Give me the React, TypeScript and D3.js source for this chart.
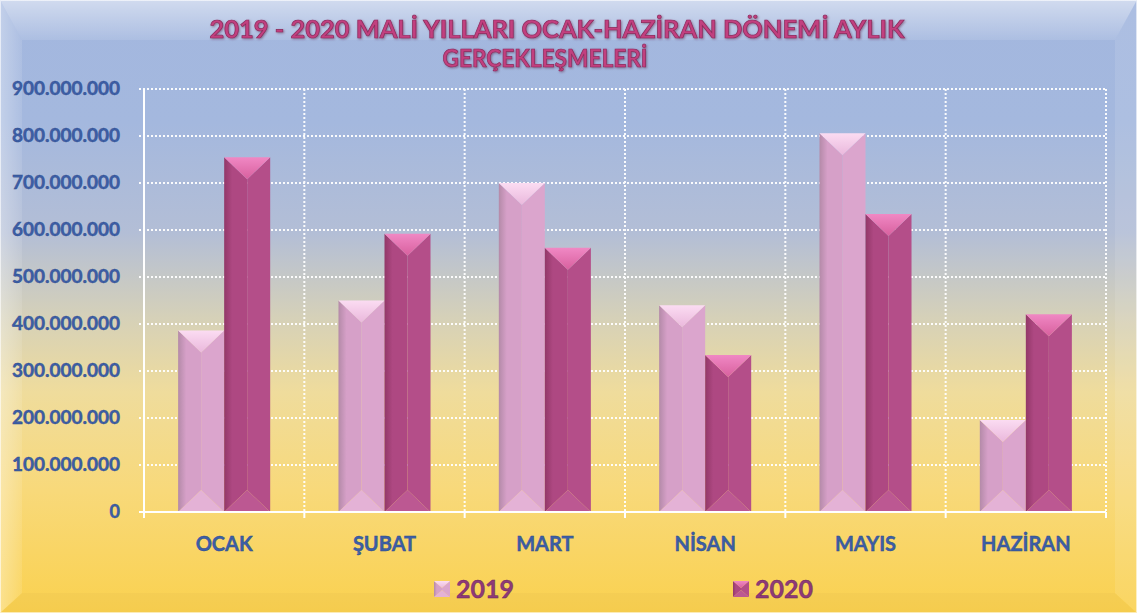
import React from "react";
import * as d3 from "d3";

const categories = ["OCAK", "ŞUBAT", "MART", "NİSAN", "MAYIS", "HAZİRAN"];
const seriesNames = ["2019", "2020"];
const values2019 = [386000000, 450000000, 700000000, 440000000, 806000000, 196000000];
const values2020 = [755000000, 592000000, 562000000, 334000000, 634000000, 421000000];
const yTicks = [0, 100000000, 200000000, 300000000, 400000000, 500000000, 600000000, 700000000, 800000000, 900000000];
const titleLines = ["2019 - 2020  MALİ YILLARI OCAK-HAZİRAN DÖNEMİ AYLIK", "GERÇEKLEŞMELERİ"];

const W = 1137;
const H = 613;
const M = { left: 144, right: 1106, top: 89, bottom: 512 };

const palettes = [
  { top: "#fbdcf2", topB: "#eab8dc", leftA: "#b48aa8", leftB: "#d6a0c8", right: "#dba5cd", bottom: "#e4b2d6", legend: "#d9a3cc" },
  { top: "#f088c4", topB: "#d8609e", leftA: "#923868", leftB: "#ae4882", right: "#b44e89", bottom: "#bc5892", legend: "#a8408a" },
];

const fmt = (v: number) => (v === 0 ? "0" : d3.format(",")(v).replace(/,/g, "."));

function Bar({ x, y, w, h, p, id }: { x: number; y: number; w: number; h: number; p: any; id: string }) {
  const d = Math.min(w / 2 - 1, h / 2);
  const cx = x + w / 2;
  const r = x + w;
  const b = y + h;
  return (
    <g>
      <defs>
        <linearGradient id={id + "l"} x1="0" x2="1" y1="0" y2="0">
          <stop offset="0" stopColor={p.leftA} />
          <stop offset="0.35" stopColor={p.leftB} />
          <stop offset="1" stopColor={p.leftB} />
        </linearGradient>
        <linearGradient id={id + "t"} x1="0" x2="0" y1="0" y2="1">
          <stop offset="0" stopColor={p.top} />
          <stop offset="1" stopColor={p.topB} />
        </linearGradient>
      </defs>
      <polygon points={`${x},${y} ${cx},${y + d} ${cx},${b - d} ${x},${b}`} fill={`url(#${id}l)`} />
      <polygon points={`${r},${y} ${cx},${y + d} ${cx},${b - d} ${r},${b}`} fill={p.right} />
      <polygon points={`${x},${y} ${r},${y} ${cx},${y + d}`} fill={`url(#${id}t)`} />
      <polygon points={`${x},${b} ${r},${b} ${cx},${b - d}`} fill={p.bottom} />
    </g>
  );
}

export default function App() {
  const y = d3.scaleLinear().domain([0, 900000000]).range([M.bottom, M.top]);
  const x0 = d3.scaleBand<string>().domain(categories).range([M.left, M.right]).paddingInner(0).paddingOuter(0);
  const x1 = d3.scaleBand<string>().domain(seriesNames).range([0, x0.bandwidth()]).paddingInner(0).paddingOuter(0.742);
  const series = [values2019, values2020];
  const boundaries = categories.map((c) => (x0(c) as number) + x0.bandwidth());

  return (
    <svg width={W} height={H} style={{ position: "absolute", left: 0, top: 0 }} fontFamily="Lato, 'Open Sans', sans-serif">
      <defs>
        <linearGradient id="bg" x1="0" x2="0" y1="0" y2="1">
          <stop offset="0" stopColor="#a3b7df" />
          <stop offset="0.2" stopColor="#a4b8de" />
          <stop offset="0.38" stopColor="#b3bed6" />
          <stop offset="0.52" stopColor="#d6d1b8" />
          <stop offset="0.64" stopColor="#efdc9c" />
          <stop offset="0.8" stopColor="#f8d97a" />
          <stop offset="1" stopColor="#fad14f" />
        </linearGradient>
        <linearGradient id="topBevel" x1="0" x2="0" y1="0" y2="1">
          <stop offset="0" stopColor="#ffffff" stopOpacity="0.5" />
          <stop offset="1" stopColor="#ffffff" stopOpacity="0.1" />
        </linearGradient>
        <linearGradient id="leftBevel" x1="0" x2="1" y1="0" y2="0">
          <stop offset="0" stopColor="#ffffff" stopOpacity="0.35" />
          <stop offset="1" stopColor="#ffffff" stopOpacity="0.1" />
        </linearGradient>
        <filter id="ts" x="-5%" y="-20%" width="110%" height="140%">
          <feDropShadow dx="1" dy="1" stdDeviation="0.8" floodColor="#5a2040" floodOpacity="0.5" />
        </filter>
      </defs>
      <rect x={0} y={0} width={W} height={H} fill="url(#bg)" />
      <polygon points={`0,0 ${W},0 ${W - 22},40 22,40`} fill="url(#topBevel)" />
      <polygon points={`0,0 22,40 22,${H - 20} 0,${H}`} fill="url(#leftBevel)" />
      <polygon points={`${W},0 ${W - 22},40 ${W - 22},${H - 20} ${W},${H}`} fill="#ffffff" fillOpacity="0.1" />
      <polygon points={`0,${H} 22,${H - 20} ${W - 22},${H - 20} ${W},${H}`} fill="#000000" fillOpacity="0.02" />
      <rect x={0.5} y={0.5} width={W - 1} height={H - 1} fill="none" stroke="#ffffff" strokeOpacity="0.6" />

      {/* title */}
      <g fill="#c2407f" stroke="#8c2a5c" strokeWidth={0.7} fontWeight="bold" textAnchor="middle" filter="url(#ts)">
        <text x={557} y={38} fontSize={24} textLength={695} lengthAdjust="spacingAndGlyphs">{titleLines[0]}</text>
        <text x={545} y={67} fontSize={24} textLength={205} lengthAdjust="spacingAndGlyphs">{titleLines[1]}</text>
      </g>

      {/* gridlines */}
      <g stroke="#ffffff" strokeWidth={2} strokeDasharray="2 2" opacity={0.95}>
        {yTicks.filter((t) => t > 0).map((t) => (
          <line key={t} x1={M.left - 5} x2={M.right} y1={y(t)} y2={y(t)} />
        ))}
        {boundaries.map((bx, i) => (
          <line key={i} x1={bx} x2={bx} y1={M.top} y2={M.bottom} />
        ))}
      </g>

      {/* bars */}
      {categories.map((c, ci) => (
        <g key={c}>
          {series.map((vals, si) => {
            const bx = (x0(c) as number) + (x1(seriesNames[si]) as number);
            const by = y(vals[ci]);
            return <Bar key={si} id={`b${ci}_${si}`} x={bx} y={by} w={x1.bandwidth()} h={M.bottom - by} p={palettes[si]} />;
          })}
        </g>
      ))}

      {/* axes */}
      <g stroke="#ffffff" strokeWidth={2}>
        <line x1={M.left} x2={M.left} y1={M.top} y2={M.bottom + 6} />
        <line x1={M.left - 5} x2={M.right} y1={M.bottom} y2={M.bottom} />
        {boundaries.map((bx, i) => (
          <line key={i} x1={bx} x2={bx} y1={M.bottom} y2={M.bottom + 6} />
        ))}
      </g>

      {/* y labels */}
      <g fill="#3d5ea6" stroke="#2a4a8a" strokeWidth={0.4} fontWeight="bold" fontSize={18} textAnchor="end">
        {yTicks.map((t) => (
          <text key={t} x={120} y={y(t) + 6} textLength={t === 0 ? undefined : 108} lengthAdjust="spacingAndGlyphs">{fmt(t)}</text>
        ))}
      </g>

      {/* category labels */}
      <g fill="#3d5ea6" stroke="#2a4a8a" strokeWidth={0.4} fontWeight="bold" fontSize={20} textAnchor="middle">
        {categories.map((c) => (
          <text key={c} x={(x0(c) as number) + x0.bandwidth() / 2} y={551}>{c}</text>
        ))}
      </g>

      {/* legend */}
      {seriesNames.map((s, i) => {
        const lx = i === 0 ? 434 : 733;
        return (
          <g key={s}>
            <Bar id={`lg${i}`} x={lx} y={581} w={16} h={16} p={palettes[i]} />
            <text x={lx + 22} y={598} fontSize={25} fontWeight="bold" fill="#8e3a78" stroke="#6a2458" strokeWidth={0.4}>{s}</text>
          </g>
        );
      })}
    </svg>
  );
}
